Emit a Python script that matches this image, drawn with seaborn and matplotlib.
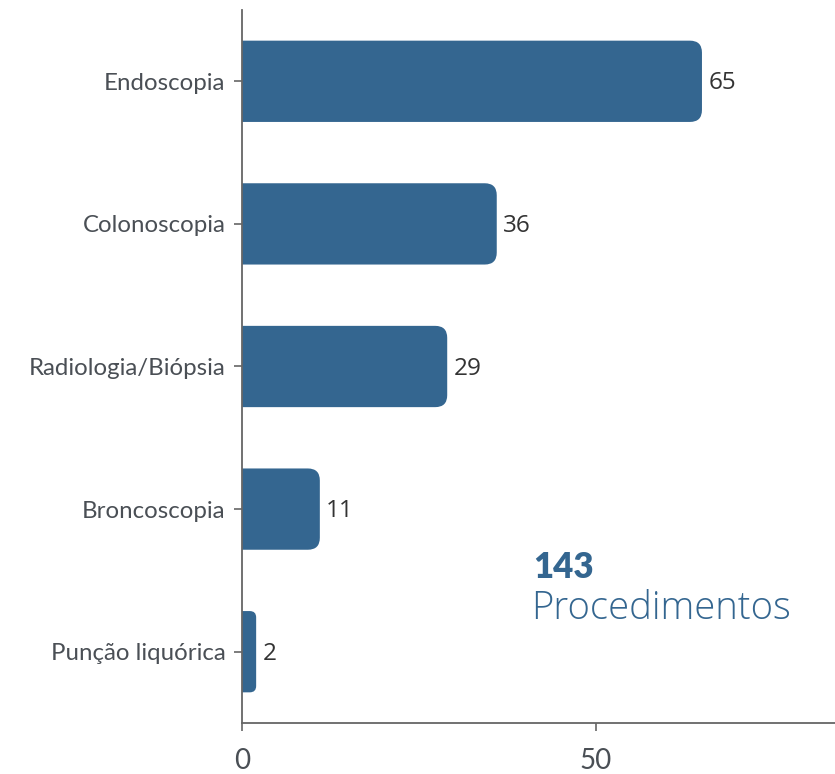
import matplotlib
matplotlib.use("Agg")
import matplotlib.pyplot as plt
import seaborn as sns
import pandas as pd
from matplotlib.patches import FancyBboxPatch

categories = ["Endoscopia", "Colonoscopia", "Radiologia/Biópsia", "Broncoscopia", "Punção liquórica"]
values = [65, 36, 29, 11, 2]
total = 143
total_label = "Procedimentos"
xticks = [0, 50]

BAR_COLOR = "#346690"
TEXT_COLOR = "#4a4f55"

sns.set_theme(style="white")
plt.rcParams['font.family'] = ['Lato', 'DejaVu Sans']

df = pd.DataFrame({"categoria": categories, "valor": values})

fig = plt.figure(figsize=(8.35, 7.74), dpi=100)
ax = fig.add_axes([242 / 835, 1 - 723 / 774, 1 - 242 / 835, (723 - 10) / 774])

sns.barplot(data=df, x="valor", y="categoria", color=BAR_COLOR, width=0.57,
            saturation=1, ax=ax)

ax.set_xlim(0, 83.8)
ax.set_ylim(4.5, -0.5)

# replace bars with right-rounded ones (left corners hidden behind the axis)
px_x = (835 - 242) / 83.8
px_y = 713 / 5.0
for bar in list(ax.patches):
    x0, y0 = bar.get_x(), bar.get_y()
    w, h = bar.get_width(), bar.get_height()
    bar.remove()
    r = min(12 / px_x, w * 0.45)
    ax.add_patch(FancyBboxPatch((x0 - 2 * r, y0), w + 2 * r, h,
                                boxstyle=f"round,pad=0,rounding_size={r}",
                                mutation_aspect=px_x / px_y,
                                fc=BAR_COLOR, ec="none", zorder=2))
    ax.text(x0 + w + 0.9, y0 + h / 2 + 0.015, str(int(w)), va="center", ha="left",
            fontsize=17.5, color="#333333", family=['Open Sans', 'DejaVu Sans'])

ax.set_xticks(xticks)
ax.set_xlabel("")
ax.set_ylabel("")
sns.despine(ax=ax, top=True, right=True)
for s in ["left", "bottom"]:
    ax.spines[s].set_color("#666666")
    ax.spines[s].set_linewidth(1.3)
    ax.spines[s].set_zorder(3)
ax.tick_params(axis="y", length=6, width=1.2, color="#666666", labelsize=17.3,
               labelcolor=TEXT_COLOR, pad=6, left=True)
ax.tick_params(axis="x", length=6, width=1.2, color="#666666", labelsize=20,
               labelcolor=TEXT_COLOR, pad=12, bottom=True)

fig.text(533 / 835, 1 - 567 / 774, str(total), fontsize=25, fontweight="heavy",
         color=BAR_COLOR, va="center", ha="left")
fig.text(531 / 835, 1 - 609 / 774, total_label, fontsize=27.5, fontweight=300,
         color=BAR_COLOR, va="center", ha="left",
         family=['Open Sans', 'DejaVu Sans'])

fig.savefig("out.png", dpi=100)
